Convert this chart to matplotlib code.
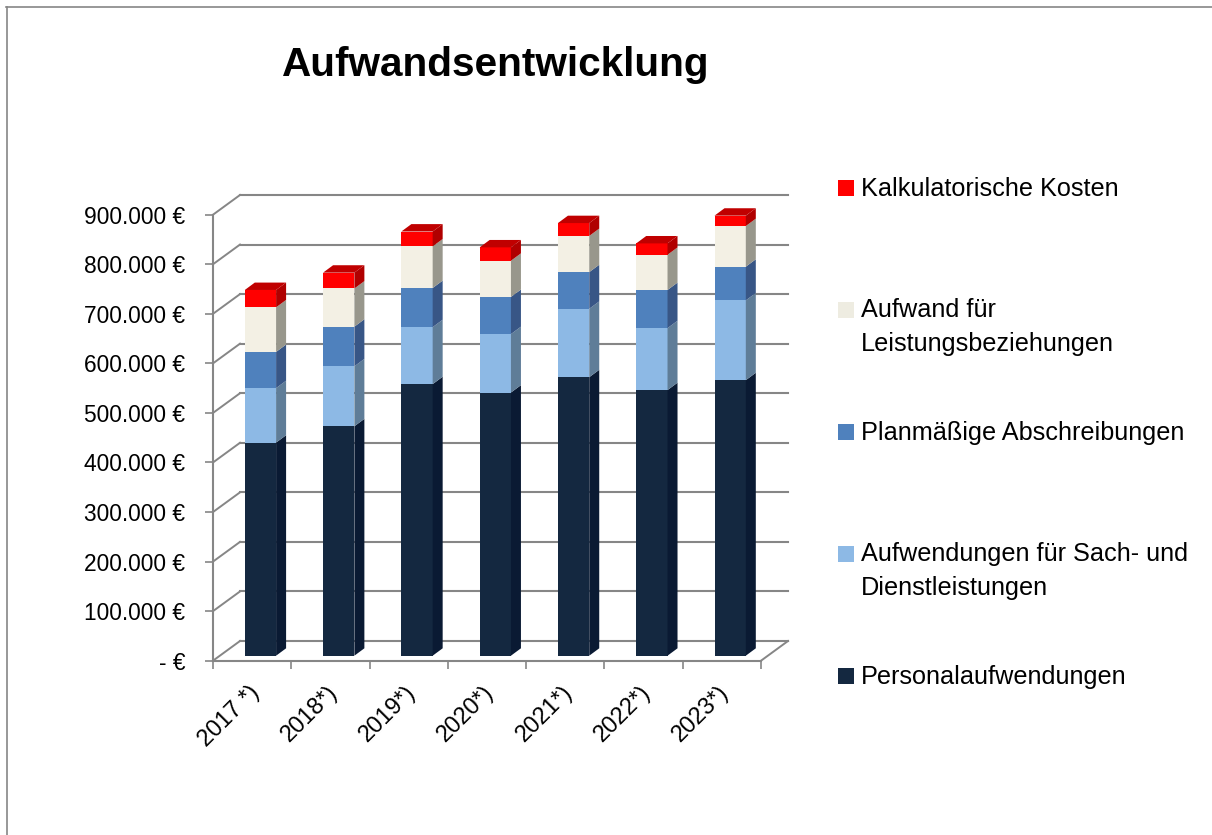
import matplotlib
matplotlib.use("Agg")
import matplotlib.pyplot as plt
from matplotlib.patches import Polygon, Rectangle
from matplotlib.lines import Line2D
from matplotlib.transforms import ScaledTranslation

years = ["2017 *)", "2018*)", "2019*)", "2020*)", "2021*)", "2022*)", "2023*)"]
personal = [430000, 463000, 548000, 531000, 562000, 536000, 556000]
sach = [110000, 121000, 115000, 118000, 138000, 125000, 161000]
abschreibung = [73000, 80000, 79000, 75000, 74000, 77000, 68000]
leistung = [90000, 77000, 84000, 73000, 73000, 71000, 82000]
kalk = [35000, 32000, 30000, 27000, 26000, 23000, 21000]
series_names = ["Personalaufwendungen", "Aufwendungen für Sach- und\nDienstleistungen",
                "Planmäßige Abschreibungen", "Aufwand für\nLeistungsbeziehungen",
                "Kalkulatorische Kosten"]
yticks = [0, 100000, 200000, 300000, 400000, 500000, 600000, 700000, 800000, 900000]
series = [personal, sach, abschreibung, leistung, kalk]
front_cols = ["#142840", "#8db9e5", "#4f81bd", "#f3f0e4", "#ff0000"]
side_cols = ["#0a1a33", "#5f7d98", "#385686", "#98978c", "#b00000"]
top_col = "#c00000"
legend_cols = ["#142840", "#8db9e5", "#4f81bd", "#eeece1", "#ff0000"]
GRID = "#868686"

W, H = 1212, 835
plt.rcParams["font.family"] = ["Liberation Sans", "DejaVu Sans"]
fig = plt.figure(figsize=(W / 100, H / 100), dpi=100, facecolor="white")
L, R, T, B = 213, 761, 214.7, 660.7
ax = fig.add_axes([L / W, 1 - B / H, (R - L) / W, (B - T) / H])
ax.set_xlim(-0.5, 6.5)
ax.set_ylim(0, 900000)
ax.patch.set_alpha(0)
px_x = 7 / (R - L)
px_y = 900000 / (B - T)

# walls: back gridlines and diagonals
bdx, bdy = 27 * px_x, 19.7 * px_y
for v in yticks:
    ax.plot([-0.5 + bdx, 6.5 + bdx], [v + bdy, v + bdy], color=GRID, lw=1.5, clip_on=False, zorder=1)
    ax.plot([-0.5, -0.5 + bdx], [v, v + bdy], color=GRID, lw=1.4, clip_on=False, zorder=1)
ax.plot([6.5, 6.5 + bdx], [0, bdy], color=GRID, lw=1.4, clip_on=False, zorder=1)

# bars
bw = 31.3 * px_x
ox, oy = 8.3 * px_x, 5 * px_y
dx, dy = 10 * px_x, 7.4 * px_y
for i in range(len(years)):
    base = 0
    cx = i + ox
    xl, xr = cx - bw / 2, cx + bw / 2
    for s, vals in enumerate(series):
        v = vals[i]
        y0, y1 = base + oy, base + v + oy
        ax.add_patch(Rectangle((xl, y0), bw, v, fc=front_cols[s], ec="none", clip_on=False, zorder=3))
        ax.add_patch(Polygon([(xr, y0), (xr + dx, y0 + dy), (xr + dx, y1 + dy), (xr, y1)],
                             fc=side_cols[s], ec="none", clip_on=False, zorder=3))
        base += v
    y1 = base + oy
    ax.add_patch(Polygon([(xl, y1), (xr, y1), (xr + dx, y1 + dy), (xl + dx, y1 + dy)],
                         fc=top_col, ec="none", clip_on=False, zorder=3))

# axes
for side in ["top", "right"]:
    ax.spines[side].set_visible(False)
for side in ["left", "bottom"]:
    ax.spines[side].set_color(GRID)
    ax.spines[side].set_linewidth(1.5)
ax.set_yticks(yticks)
ax.set_yticklabels(["- €" if v == 0 else f"{v:,}".replace(",", ".") + " €" for v in yticks],
                   fontsize=16.4, color="black")
ax.tick_params(axis="y", length=5.8, width=1.2, color=GRID, pad=14)
ax.set_xticks([i - 0.5 for i in range(len(years) + 1)])
ax.set_xticklabels([])
ax.tick_params(axis="x", which="major", length=5.5, width=1.2, color=GRID)
ax.set_xticks(range(len(years)), minor=True)
ax.set_xticklabels(years, minor=True, rotation=45, ha="right", va="top",
                   rotation_mode="anchor", fontsize=17, color="black")
ax.tick_params(axis="x", which="minor", length=0, pad=15)
shift = ScaledTranslation(-4 / 100, 0, fig.dpi_scale_trans)
for lab in ax.get_xticklabels(minor=True):
    lab.set_transform(lab.get_transform() + shift)

# title
fig.text(496 / W, 1 - 65 / H, "Aufwandsentwicklung", fontsize=29.2, fontweight="bold",
         ha="center", va="center", color="black")

# legend
leg_y = [675.7, 554, 432, 310, 188]
for name, col, y in zip(series_names, legend_cols, leg_y):
    fig.add_artist(Rectangle((838 / W, 1 - (y + 8) / H), 16 / W, 16 / H, fc=col, ec="none",
                             transform=fig.transFigure))
    if "\n" in name:
        fig.text(861 / W, 1 - (y - 12) / H, name, fontsize=18.2, ha="left", va="top",
                 color="black", linespacing=1.52)
    else:
        fig.text(861 / W, 1 - (y + 8) / H, name, fontsize=18.2, ha="left", va="baseline",
                 color="black")

# outer frame
fig.add_artist(Line2D([6.5 / W, 6.5 / W], [0, 1 - 7 / H], color=GRID, lw=1.2))
fig.add_artist(Line2D([6 / W, 1], [1 - 7 / H, 1 - 7 / H], color=GRID, lw=1.2))

fig.savefig("out.png", dpi=100)
